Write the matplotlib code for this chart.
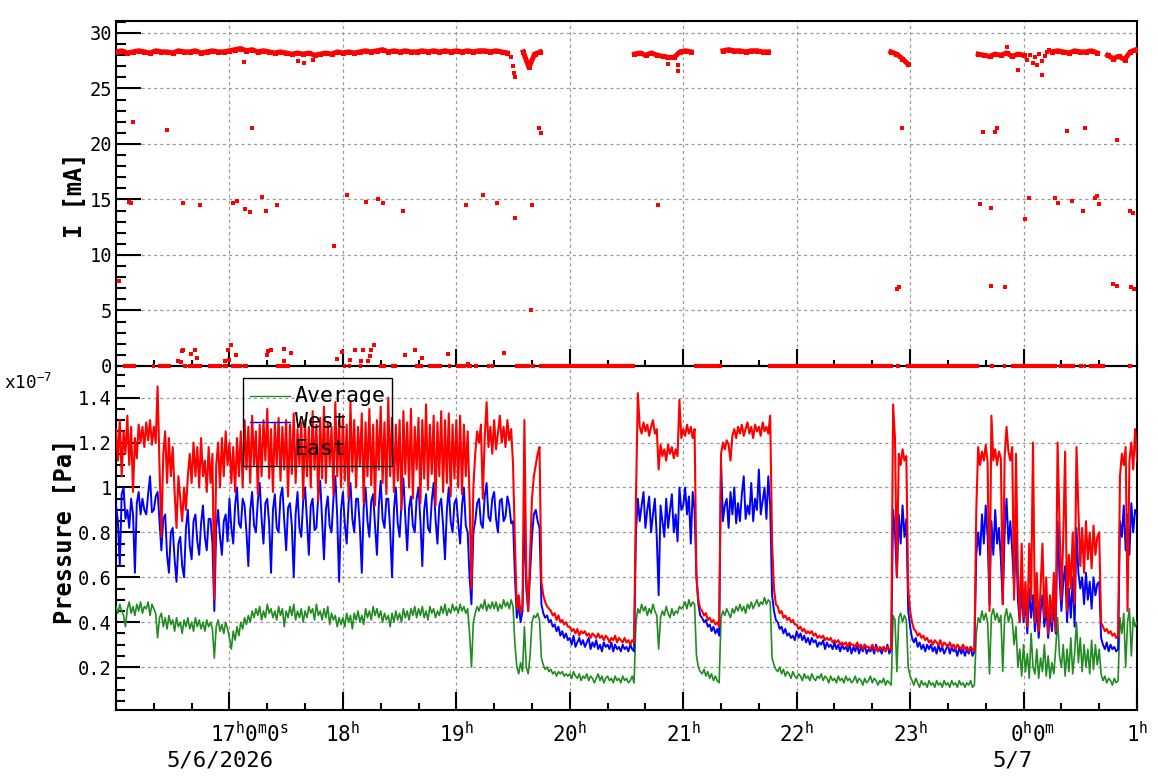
import numpy as np
import matplotlib
matplotlib.use('Agg')
import matplotlib.pyplot as plt
from matplotlib.ticker import MultipleLocator, FixedLocator
from matplotlib.lines import Line2D
from matplotlib.patches import Rectangle
from matplotlib.transforms import blended_transform_factory

plt.rcParams['font.family'] = 'DejaVu Sans Mono'
plt.rcParams['mathtext.fontset'] = 'custom'
plt.rcParams['mathtext.rm'] = 'DejaVu Sans Mono'
plt.rcParams['mathtext.it'] = 'DejaVu Sans Mono'
plt.rcParams['mathtext.bf'] = 'DejaVu Sans Mono:bold'

# ---------------- data ----------------
# time in hours since 5/6 00:00 (25 = 5/7 01:00); pressure in units of 1e-7 Pa
P_T0 = 16.0
P_DT = 1.0 / 60.0   # 1-minute samples

EAST = [
    # 16h
    1.26, 1.12, 1.30, 1.05, 1.25, 1.15, 1.32, 1.10, 1.27, 0.98,
    1.22, 1.13, 1.28, 1.20, 1.27, 1.18, 1.29, 1.21, 1.30, 1.19,
    1.27, 1.20, 1.45, 1.10, 0.78, 1.15, 1.25, 1.02, 1.22, 1.05,
    1.18, 0.98, 0.82, 1.05, 0.95, 0.85, 1.00, 0.90, 1.05, 1.15,
    1.02, 1.20, 1.05, 1.18, 1.00, 1.22, 1.05, 1.12, 0.98, 1.18,
    1.02, 1.15, 0.50, 1.10, 1.20, 1.00, 1.22, 1.05, 1.25, 1.10,
    # 17h
    1.20, 1.02, 1.18, 0.98, 1.22, 1.05, 1.25, 1.00, 1.30, 1.08,
    1.27, 1.02, 1.32, 1.10, 1.25, 0.97, 1.28, 1.05, 1.30, 1.12,
    1.35, 1.04, 1.26, 0.98, 1.29, 1.10, 1.31, 1.03, 1.27, 1.08,
    1.30, 0.96, 1.28, 1.06, 1.33, 1.02, 1.26, 1.10, 1.29, 0.95,
    1.30, 1.05, 1.27, 1.00, 1.34, 1.08, 1.28, 0.94, 1.31, 1.04,
    1.36, 1.02, 1.29, 1.10, 1.27, 0.97, 1.38, 1.05, 1.30, 1.00,
    # 18h
    1.32, 1.03, 1.28, 0.95, 1.38, 1.07, 1.30, 1.00, 1.27, 1.10,
    1.33, 0.93, 1.29, 1.05, 1.35, 1.01, 1.28, 0.92, 1.30, 1.08,
    1.36, 1.02, 1.29, 0.97, 1.40, 1.05, 1.31, 0.98, 1.28, 1.03,
    1.30, 0.90, 1.34, 1.06, 1.29, 1.00, 1.35, 0.95, 1.27, 1.08,
    1.31, 0.93, 1.30, 1.04, 1.37, 0.99, 1.28, 1.06, 1.32, 0.92,
    1.29, 1.05, 1.34, 0.98, 1.30, 1.02, 1.33, 0.96, 1.28, 1.04,
    # 19h
    1.30, 1.00, 1.32, 0.97, 1.28, 1.05, 1.25, 0.95, 0.55, 1.00,
    1.15, 1.25, 1.20, 1.28, 0.95, 1.22, 1.38, 1.18, 1.27, 1.15,
    1.30, 1.17, 1.24, 1.32, 1.20, 1.27, 1.18, 1.30, 1.21, 1.26,
    1.10, 0.75, 0.46, 0.52, 0.44, 0.48, 1.30, 0.62, 0.45, 0.70,
    0.95, 1.05, 1.10, 1.15, 1.18, 0.58, 0.52, 0.49, 0.47, 0.46,
    0.45, 0.43, 0.44, 0.41, 0.43, 0.40, 0.41, 0.39, 0.40, 0.38,
    # 20h
    0.38, 0.36, 0.37, 0.35, 0.37, 0.34, 0.36, 0.35, 0.36, 0.34,
    0.35, 0.33, 0.35, 0.34, 0.33, 0.35, 0.33, 0.34, 0.32, 0.34,
    0.33, 0.31, 0.33, 0.32, 0.34, 0.31, 0.33, 0.32, 0.31, 0.33,
    0.31, 0.32, 0.30, 0.32, 0.31, 0.95, 1.42, 1.27, 1.24, 1.29,
    1.25, 1.28, 1.23, 1.27, 1.30, 1.24, 1.26, 1.08, 1.19, 1.14,
    1.17, 1.12, 1.19, 1.15, 1.18, 1.13, 1.17, 1.14, 1.39, 1.22,
    # 21h
    1.26, 1.23, 1.28, 1.24, 1.27, 1.22, 1.26, 0.60, 0.50, 0.46,
    0.45, 0.43, 0.44, 0.41, 0.42, 0.40, 0.41, 0.39, 0.40, 0.38,
    1.15, 1.20, 1.17, 1.21, 1.19, 1.12, 1.23, 1.26, 1.22, 1.27,
    1.24, 1.28, 1.23, 1.26, 1.29, 1.24, 1.27, 1.22, 1.28, 1.25,
    1.27, 1.23, 1.29, 1.25, 1.27, 1.24, 1.32, 0.75, 0.55, 0.48,
    0.47, 0.44, 0.45, 0.42, 0.43, 0.41, 0.42, 0.40, 0.41, 0.39,
    # 22h
    0.39, 0.37, 0.38, 0.36, 0.37, 0.35, 0.36, 0.35, 0.36, 0.34,
    0.35, 0.33, 0.34, 0.33, 0.34, 0.32, 0.33, 0.32, 0.33, 0.31,
    0.32, 0.31, 0.32, 0.30, 0.31, 0.30, 0.31, 0.29, 0.31, 0.30,
    0.30, 0.29, 0.31, 0.29, 0.30, 0.28, 0.30, 0.29, 0.29, 0.28,
    0.30, 0.28, 0.29, 0.27, 0.29, 0.28, 0.29, 0.27, 0.29, 0.28,
    0.28, 1.37, 1.22, 0.60, 1.15, 1.10, 1.17, 1.12, 1.14, 0.55,
    # 23h
    0.45, 0.40, 0.37, 0.36, 0.34, 0.35, 0.33, 0.34, 0.32, 0.33,
    0.31, 0.32, 0.30, 0.32, 0.31, 0.30, 0.32, 0.29, 0.31, 0.30,
    0.29, 0.31, 0.29, 0.30, 0.28, 0.30, 0.29, 0.28, 0.30, 0.28,
    0.29, 0.27, 0.29, 0.28, 0.27, 0.90, 1.18, 1.10, 1.16, 1.12,
    1.19, 1.11, 0.45, 1.32, 1.12, 1.17, 1.10, 1.16, 1.13, 0.48,
    1.14, 1.27, 1.16, 1.12, 1.18, 0.50, 1.15, 0.62, 0.40, 0.75,
    # 0h (5/7)
    0.42, 0.58, 0.38, 0.75, 0.50, 1.20, 0.40, 0.62, 0.36, 0.55,
    0.75, 0.42, 0.60, 0.35, 0.52, 0.40, 0.62, 0.36, 1.20, 0.85,
    0.50, 0.78, 1.16, 0.45, 0.70, 0.55, 0.80, 0.48, 1.18, 0.90,
    0.65, 0.82, 0.62, 0.85, 0.68, 0.80, 0.64, 0.83, 0.70, 0.78,
    0.80, 0.40, 0.38, 0.36, 0.37, 0.35, 0.36, 0.34, 0.35, 0.33,
    0.34, 1.05, 1.15, 1.10, 1.18, 0.45, 1.12, 1.20, 1.08, 1.26,
    1.12,
]
WEST = [
    # 16h
    0.92, 0.85, 0.65, 0.97, 1.00, 0.86, 0.90, 0.82, 0.95, 0.88,
    0.62, 0.93, 0.98, 0.88, 0.95, 0.90, 0.88, 0.97, 1.05, 0.89,
    0.90, 0.96, 0.98, 0.85, 0.72, 0.86, 0.88, 0.70, 0.62, 0.80,
    0.82, 0.68, 0.58, 0.75, 0.78, 0.65, 0.60, 0.82, 0.90, 0.74,
    0.68, 0.85, 0.88, 0.76, 0.70, 0.84, 0.92, 0.78, 0.72, 0.86,
    0.86, 0.75, 0.45, 0.82, 0.90, 0.78, 0.70, 0.85, 0.88, 0.76,
    # 17h
    0.95, 0.82, 0.75, 0.92, 1.00, 0.84, 0.82, 0.95, 0.92, 0.80,
    0.65, 0.90, 0.98, 0.83, 0.80, 0.94, 1.02, 0.86, 0.75, 0.93,
    0.95, 0.84, 0.62, 0.90, 0.97, 0.82, 0.80, 0.96, 1.00, 0.85,
    0.72, 0.91, 0.93, 0.83, 0.60, 0.88, 0.98, 0.82, 0.78, 0.94,
    1.00, 0.85, 0.70, 0.92, 0.95, 0.81, 0.82, 0.97, 1.03, 0.86,
    0.68, 0.90, 0.96, 0.83, 0.80, 0.95, 1.05, 0.87, 0.58, 0.90,
    # 18h
    0.98, 0.84, 0.75, 0.93, 1.02, 0.86, 0.80, 0.95, 0.95, 0.82,
    0.62, 0.91, 1.00, 0.85, 0.78, 0.94, 0.97, 0.83, 0.70, 0.92,
    1.03, 0.86, 0.82, 0.95, 0.95, 0.81, 0.60, 0.90, 1.00, 0.84,
    0.78, 0.93, 1.04, 0.87, 0.72, 0.91, 0.96, 0.83, 0.80, 0.95,
    1.00, 0.85, 0.65, 0.90, 0.97, 0.82, 0.80, 0.94, 1.02, 0.86,
    0.75, 0.92, 0.95, 0.83, 0.68, 0.90, 1.00, 0.85, 0.80, 0.93,
    # 19h
    0.95, 0.84, 0.75, 0.92, 1.00, 0.83, 0.80, 0.60, 0.48, 0.80,
    0.85, 0.93, 0.95, 0.84, 0.82, 0.96, 1.02, 0.87, 0.85, 0.95,
    0.98, 0.86, 0.80, 0.94, 0.95, 0.85, 0.87, 0.96, 0.92, 0.84,
    0.85, 0.60, 0.42, 0.48, 0.40, 0.45, 0.90, 0.55, 0.45, 0.62,
    0.78, 0.88, 0.90, 0.85, 0.82, 0.48, 0.44, 0.42, 0.43, 0.40,
    0.41, 0.38, 0.39, 0.36, 0.38, 0.34, 0.36, 0.33, 0.35, 0.32,
    # 20h
    0.33, 0.30, 0.34, 0.29, 0.31, 0.33, 0.30, 0.32, 0.29, 0.31,
    0.33, 0.28, 0.31, 0.29, 0.32, 0.28, 0.30, 0.27, 0.31, 0.29,
    0.30, 0.28, 0.31, 0.27, 0.30, 0.28, 0.29, 0.27, 0.30, 0.28,
    0.29, 0.27, 0.30, 0.28, 0.27, 0.80, 0.95, 0.85, 0.92, 0.98,
    0.82, 0.90, 0.96, 0.80, 0.88, 0.95, 0.78, 0.52, 0.92, 0.85,
    0.78, 0.95, 0.82, 0.90, 0.97, 0.80, 0.88, 0.76, 1.00, 0.90,
    # 21h
    0.92, 1.00, 0.88, 0.96, 0.75, 0.98, 0.90, 0.60, 0.48, 0.43,
    0.42, 0.40, 0.41, 0.38, 0.39, 0.36, 0.38, 0.35, 0.37, 0.34,
    1.12, 0.85, 0.92, 0.95, 0.82, 0.98, 0.88, 1.00, 0.84, 0.93,
    0.85, 0.97, 1.05, 0.86, 0.92, 0.88, 1.02, 0.85, 0.95, 0.90,
    1.08, 0.88, 0.94, 1.00, 0.86, 1.05, 0.92, 0.52, 0.45, 0.41,
    0.40, 0.37, 0.38, 0.35, 0.37, 0.34, 0.35, 0.33, 0.34, 0.32,
    # 22h
    0.36, 0.33, 0.35, 0.32, 0.34, 0.31, 0.33, 0.30, 0.33, 0.31,
    0.32, 0.29, 0.31, 0.30, 0.32, 0.28, 0.31, 0.29, 0.30, 0.28,
    0.31, 0.28, 0.30, 0.27, 0.30, 0.28, 0.29, 0.27, 0.30, 0.26,
    0.29, 0.27, 0.30, 0.26, 0.29, 0.27, 0.30, 0.26, 0.28, 0.27,
    0.29, 0.26, 0.30, 0.27, 0.28, 0.26, 0.29, 0.27, 0.30, 0.26,
    0.28, 0.90, 0.80, 0.60, 0.88, 0.75, 0.92, 0.78, 0.86, 0.45,
    # 23h
    0.38, 0.33, 0.31, 0.33, 0.29, 0.31, 0.28, 0.30, 0.27, 0.30,
    0.28, 0.30, 0.27, 0.29, 0.26, 0.30, 0.27, 0.29, 0.26, 0.28,
    0.30, 0.26, 0.29, 0.27, 0.28, 0.25, 0.29, 0.26, 0.28, 0.25,
    0.28, 0.26, 0.29, 0.25, 0.27, 0.70, 0.80, 0.70, 0.88, 0.75,
    0.92, 0.78, 0.48, 0.85, 0.70, 0.90, 0.75, 0.82, 0.68, 0.48,
    0.80, 0.95, 0.75, 0.85, 0.72, 0.55, 0.80, 0.50, 0.40, 0.55,
    # 0h (5/7)
    0.40, 0.50, 0.35, 0.55, 0.42, 0.52, 0.36, 0.47, 0.33, 0.45,
    0.52, 0.38, 0.47, 0.33, 0.44, 0.36, 0.48, 0.35, 0.85, 0.60,
    0.45, 0.58, 0.65, 0.40, 0.55, 0.42, 0.60, 0.38, 0.82, 0.62,
    0.55, 0.60, 0.48, 0.62, 0.50, 0.58, 0.46, 0.60, 0.52, 0.57,
    0.58, 0.33, 0.30, 0.28, 0.31, 0.27, 0.30, 0.28, 0.29, 0.27,
    0.28, 0.85, 0.78, 0.92, 0.72, 0.88, 0.70, 0.93, 0.80, 0.90,
    0.88,
]
AVERAGE = [
    # 16h
    0.47, 0.44, 0.48, 0.45, 0.43, 0.38, 0.46, 0.49, 0.44, 0.47,
    0.43, 0.48, 0.45, 0.49, 0.44, 0.47, 0.46, 0.49, 0.43, 0.48,
    0.46, 0.44, 0.33, 0.42, 0.44, 0.38, 0.42, 0.37, 0.43, 0.39,
    0.41, 0.36, 0.42, 0.38, 0.40, 0.35, 0.41, 0.38, 0.42, 0.37,
    0.40, 0.36, 0.42, 0.38, 0.41, 0.37, 0.40, 0.36, 0.41, 0.38,
    0.40, 0.37, 0.24, 0.38, 0.41, 0.36, 0.39, 0.35, 0.40, 0.37,
    # 17h
    0.33, 0.28, 0.36, 0.32, 0.38, 0.34, 0.40, 0.37, 0.42, 0.39,
    0.43, 0.40, 0.45, 0.42, 0.46, 0.43, 0.47, 0.41, 0.45, 0.42,
    0.48, 0.44, 0.46, 0.42, 0.45, 0.41, 0.47, 0.43, 0.46, 0.38,
    0.45, 0.42, 0.47, 0.43, 0.48, 0.41, 0.45, 0.42, 0.46, 0.40,
    0.45, 0.42, 0.47, 0.44, 0.46, 0.41, 0.48, 0.43, 0.45, 0.41,
    0.46, 0.42, 0.47, 0.39, 0.44, 0.41, 0.43, 0.38, 0.42, 0.39,
    # 18h
    0.42, 0.38, 0.44, 0.40, 0.43, 0.37, 0.44, 0.41, 0.45, 0.40,
    0.43, 0.39, 0.46, 0.42, 0.45, 0.41, 0.47, 0.43, 0.46, 0.42,
    0.45, 0.40, 0.44, 0.41, 0.43, 0.38, 0.44, 0.40, 0.45, 0.41,
    0.44, 0.40, 0.46, 0.42, 0.45, 0.41, 0.46, 0.43, 0.47, 0.42,
    0.46, 0.43, 0.47, 0.42, 0.45, 0.41, 0.47, 0.44, 0.46, 0.42,
    0.45, 0.43, 0.47, 0.44, 0.48, 0.43, 0.46, 0.44, 0.48, 0.45,
    # 19h
    0.47, 0.44, 0.48, 0.45, 0.47, 0.44, 0.46, 0.35, 0.20, 0.40,
    0.44, 0.47, 0.45, 0.48, 0.46, 0.50, 0.45, 0.48, 0.46, 0.49,
    0.46, 0.49, 0.45, 0.48, 0.46, 0.50, 0.47, 0.49, 0.46, 0.50,
    0.47, 0.30, 0.20, 0.17, 0.22, 0.18, 0.38, 0.20, 0.17, 0.25,
    0.40, 0.43, 0.42, 0.44, 0.41, 0.24, 0.21, 0.19, 0.20, 0.18,
    0.19, 0.17, 0.18, 0.16, 0.18, 0.17, 0.18, 0.16, 0.17, 0.16,
    # 20h
    0.17, 0.15, 0.18, 0.16, 0.15, 0.17, 0.14, 0.16, 0.15, 0.17,
    0.14, 0.16, 0.15, 0.13, 0.15, 0.17, 0.14, 0.16, 0.13, 0.15,
    0.16, 0.14, 0.15, 0.13, 0.16, 0.14, 0.15, 0.13, 0.16, 0.14,
    0.15, 0.13, 0.14, 0.16, 0.13, 0.40, 0.46, 0.44, 0.48, 0.45,
    0.47, 0.43, 0.46, 0.44, 0.48, 0.45, 0.43, 0.28, 0.42, 0.45,
    0.43, 0.47, 0.44, 0.42, 0.46, 0.43, 0.45, 0.44, 0.47, 0.46,
    # 21h
    0.47, 0.49, 0.46, 0.50, 0.47, 0.49, 0.48, 0.25, 0.20, 0.18,
    0.17, 0.19, 0.16, 0.18, 0.15, 0.17, 0.14, 0.16, 0.14, 0.13,
    0.42, 0.45, 0.43, 0.46, 0.44, 0.42, 0.46, 0.44, 0.47, 0.45,
    0.48, 0.45, 0.47, 0.44, 0.48, 0.46, 0.49, 0.46, 0.48, 0.50,
    0.47, 0.49, 0.48, 0.51, 0.48, 0.50, 0.49, 0.24, 0.21, 0.19,
    0.18, 0.20, 0.17, 0.19, 0.16, 0.18, 0.17, 0.15, 0.18, 0.16,
    # 22h
    0.15, 0.17, 0.16, 0.14, 0.17, 0.15, 0.16, 0.14, 0.17, 0.15,
    0.14, 0.16, 0.15, 0.17, 0.14, 0.16, 0.15, 0.13, 0.16, 0.14,
    0.15, 0.13, 0.16, 0.14, 0.15, 0.13, 0.16, 0.14, 0.15, 0.13,
    0.14, 0.16, 0.13, 0.15, 0.14, 0.12, 0.15, 0.13, 0.14, 0.16,
    0.13, 0.15, 0.14, 0.12, 0.14, 0.13, 0.15, 0.12, 0.14, 0.13,
    0.12, 0.43, 0.41, 0.18, 0.42, 0.44, 0.40, 0.43, 0.41, 0.20,
    # 23h
    0.16, 0.14, 0.12, 0.15, 0.13, 0.11, 0.14, 0.12, 0.13, 0.11,
    0.14, 0.12, 0.13, 0.11, 0.14, 0.12, 0.13, 0.11, 0.14, 0.12,
    0.13, 0.11, 0.14, 0.12, 0.13, 0.11, 0.14, 0.12, 0.13, 0.11,
    0.13, 0.12, 0.14, 0.11, 0.12, 0.35, 0.42, 0.40, 0.45, 0.41,
    0.44, 0.40, 0.17, 0.43, 0.46, 0.41, 0.44, 0.40, 0.43, 0.18,
    0.42, 0.46, 0.40, 0.44, 0.41, 0.30, 0.38, 0.20, 0.28, 0.16,
    # 0h (5/7)
    0.30, 0.18, 0.26, 0.15, 0.35, 0.20, 0.17, 0.28, 0.15, 0.24,
    0.18, 0.30, 0.16, 0.25, 0.15, 0.22, 0.17, 0.28, 0.42, 0.25,
    0.20, 0.30, 0.16, 0.28, 0.18, 0.33, 0.17, 0.26, 0.40, 0.22,
    0.33, 0.18, 0.30, 0.20, 0.28, 0.17, 0.32, 0.19, 0.30, 0.21,
    0.28, 0.17, 0.14, 0.16, 0.13, 0.15, 0.14, 0.12, 0.15, 0.13,
    0.14, 0.42, 0.35, 0.44, 0.20, 0.40, 0.46, 0.25, 0.42, 0.38,
    0.40,
]

# beam current: main band segments (3-minute samples)
I_BAND_STEP = 0.05
I_BAND_START = [16.00, 19.59, 20.57, 21.35, 22.83, 23.60, 24.25, 24.74]
I_BAND_VALUES = [
    [28.3, 28.4, 28.2, 28.3, 28.4, 28.3, 28.2, 28.4, 28.3, 28.3,
     28.2, 28.4, 28.3, 28.3, 28.4, 28.2, 28.3, 28.4, 28.3, 28.3,
     28.4, 28.5, 28.6, 28.4, 28.5, 28.3, 28.4, 28.3, 28.2, 28.3,
     28.2, 28.1, 28.2, 28.1, 28.2, 28.0, 28.1, 28.2, 28.1, 28.3,
     28.2, 28.3, 28.2, 28.3, 28.4, 28.3, 28.4, 28.5, 28.3, 28.4,
     28.3, 28.4, 28.3, 28.3, 28.4, 28.3, 28.4, 28.3, 28.4, 28.3,
     28.4, 28.3, 28.4, 28.3, 28.4, 28.4, 28.3, 28.4, 28.3, 28.2],
    [28.3, 26.9, 28.1, 28.3],
    [28.1, 28.2, 28.0, 28.2, 28.0, 27.9, 27.8, 27.8, 28.3, 28.4, 28.3],
    [28.4, 28.5, 28.4, 28.4, 28.3, 28.4, 28.4, 28.3, 28.3],
    [28.3, 28.1, 27.7, 27.2],
    [28.1, 28.0, 27.9, 28.1, 28.0, 28.2, 27.9, 28.1, 28.0],
    [28.3, 28.4, 28.3, 28.2, 28.4, 28.3, 28.3, 28.4, 28.2],
    [28.0, 27.7, 27.9, 27.6, 28.3, 28.5],
]

# beam current: isolated readings
I_SCAT_T = [16.026, 16.115, 16.132, 16.150, 16.450, 16.590, 16.740, 17.030, 17.067, 17.140,
            17.180, 17.200, 17.290, 17.320, 17.420, 17.920, 18.040, 18.200, 18.310, 18.350,
            18.530, 19.086, 19.236, 19.360, 19.520, 19.670, 19.730, 19.750, 20.780, 22.887,
            22.905, 22.930, 23.620, 23.645, 23.710, 23.716, 23.750, 23.770, 23.840, 24.016,
            24.050, 24.280, 24.300, 24.386, 24.430, 24.527, 24.545, 24.633, 24.650, 24.668,
            24.790, 24.827, 24.827, 24.940, 24.950, 24.968, 24.977,
            16.549, 16.573, 16.579, 16.588, 16.661, 16.700, 16.717, 16.961, 16.990, 17.000,
            17.017, 17.058, 17.334, 17.343, 17.367, 17.484, 17.484, 17.546, 17.951, 17.996,
            18.066, 18.110, 18.160, 18.180, 18.225, 18.243, 18.251, 18.278, 18.551, 18.639,
            18.698, 18.930, 19.107, 19.420, 19.662,
            17.13, 17.60, 17.66, 17.74, 19.48, 19.50, 19.51, 19.52, 20.87, 20.95,
            20.95, 23.85, 23.95, 24.03, 24.06, 24.08, 24.10, 24.12, 24.14, 24.16,
            24.16, 24.19, 24.21, 24.22]
I_SCAT_V = [7.7, 14.8, 14.7, 22.0, 21.3, 14.7, 14.5, 14.7, 14.9, 14.1,
            13.9, 21.4, 15.2, 14.0, 14.5, 10.8, 15.4, 14.8, 15.0, 14.7,
            14.0, 14.5, 15.4, 14.7, 13.3, 14.5, 21.4, 21.0, 14.5, 6.9,
            7.1, 21.4, 14.6, 21.1, 14.2, 7.2, 21.1, 21.4, 7.1, 13.2,
            15.1, 15.1, 14.7, 21.2, 14.9, 14.0, 21.4, 15.1, 15.3, 14.6,
            7.4, 7.2, 20.4, 14.0, 7.1, 13.8, 6.9,
            0.45, 0.33, 1.35, 1.44, 1.05, 1.44, 0.69, 0.42, 1.44, 0.51,
            1.90, 0.96, 0.96, 1.32, 1.44, 1.50, 0.42, 1.14, 0.60, 1.26,
            0.51, 1.44, 0.42, 1.44, 0.45, 0.87, 1.44, 1.90, 0.96, 1.44,
            0.69, 1.08, 0.18, 1.17, 5.0,
            27.4, 27.5, 27.3, 27.6, 27.8, 27.0, 26.4, 26.0, 27.2, 26.6,
            27.1, 28.7, 26.7, 27.6, 28.0, 27.3, 27.8, 27.1, 28.1, 27.5,
            26.2, 27.9, 28.3, 28.5]

# beam current: intervals with zero readings
ZERO_START = [16.064, 16.315, 16.373, 16.588, 16.638, 16.814, 16.946, 17.014, 17.123, 17.408,
              17.999, 18.049, 18.146, 18.322, 18.425, 18.637, 18.749, 18.925, 18.998, 19.092,
              19.157, 19.269, 19.307, 19.519, 19.657, 19.733, 21.094, 21.750, 22.880, 22.966,
              23.700, 23.817, 23.890, 24.316, 24.490, 24.536, 24.576, 24.920]
ZERO_END = [16.174, 16.344, 16.482, 16.629, 16.755, 16.932, 16.990, 17.108, 17.161, 17.534,
            18.028, 18.070, 18.170, 18.381, 18.475, 18.704, 18.872, 18.951, 19.086, 19.137,
            19.190, 19.298, 19.336, 19.651, 19.695, 20.575, 21.344, 22.850, 22.910, 23.606,
            23.740, 23.848, 24.296, 24.452, 24.520, 24.553, 24.718, 24.956]

HOUR_TICKS = [17, 18, 19, 20, 21, 22, 23, 24, 25]
HOUR_LABELS = ['17$^{h}$0$^{m}$0$^{s}$', '18$^{h}$', '19$^{h}$', '20$^{h}$', '21$^{h}$',
               '22$^{h}$', '23$^{h}$', '0$^{h}$0$^{m}$', '1$^{h}$']
HOUR_LABEL_POS = [17.18, 18.0, 19.0, 20.0, 21.0, 22.0, 23.0, 24.08, 25.0]
DATE_LABELS = ['5/6/2026', '5/7']
DATE_LABEL_POS = [16.917, 23.90]

P_TICKS = [0.2, 0.4, 0.6, 0.8, 1.0, 1.2, 1.4]
P_TICK_LABELS = ['0.2', '0.4', '0.6', '0.8', '1', '1.2', '1.4']

# ---------------- figure ----------------
W, H = 1158, 782
fig = plt.figure(figsize=(W / 100, H / 100), dpi=100)


def fx(px):
    return px / W


def fy(py):
    return 1 - py / H


ax1 = fig.add_axes([fx(116), fy(366), fx(1137) - fx(116), fy(21) - fy(366)])
ax2 = fig.add_axes([fx(116), fy(710), fx(1137) - fx(116), fy(366) - fy(710)])
ax1.set_zorder(2)          # zero readings sit on top of the shared border
ax1.patch.set_alpha(0)

RED = '#ff0000'
BLUE = '#0000ff'
GREEN = '#228b22'
GRID = '#9a9a9a'

for ax in (ax1, ax2):
    ax.set_xlim(16.0, 25.0)
    ax.set_axisbelow(True)
    ax.xaxis.set_major_locator(FixedLocator(HOUR_TICKS))
    ax.xaxis.set_minor_locator(MultipleLocator(1.0 / 3.0))
    ax.grid(True, which='major', color=GRID, linestyle=(0, (2.5, 2.5)), linewidth=0.9)
    for s in ax.spines.values():
        s.set_linewidth(1.5)
    ax.set_xticklabels([])
    ax.tick_params(which='both', direction='in', width=1.5, top=False, right=False,
                   labelsize=13.5, pad=3)

# ---- top panel: current ----
ax1.set_ylim(0, 31.08)
ax1.yaxis.set_major_locator(MultipleLocator(5))
ax1.yaxis.set_minor_locator(MultipleLocator(1))
ax1.tick_params(axis='y', which='major', length=18)
ax1.tick_params(axis='y', which='minor', length=7.2)
ax1.tick_params(axis='x', which='major', length=12)
ax1.tick_params(axis='x', which='minor', length=4.5)

ax1.hlines(np.zeros(len(ZERO_START)), ZERO_START, ZERO_END, colors=RED, linewidth=3.0,
           clip_on=False, zorder=5)
for start, vals in zip(I_BAND_START, I_BAND_VALUES):
    tt = start + I_BAND_STEP * np.arange(len(vals))
    ax1.plot(tt, vals, color=RED, linewidth=3.6, marker='s', markersize=3.6,
             markeredgewidth=0, zorder=4)
ax1.plot(I_SCAT_T, I_SCAT_V, linestyle='none', marker='s', markersize=2.8, color=RED,
         markeredgewidth=0, clip_on=False, zorder=5)

# ---- bottom panel: pressure ----
for series, col, lw in ((AVERAGE, GREEN, 1.2), (WEST, BLUE, 1.4), (EAST, RED, 1.5)):
    tt = P_T0 + P_DT * np.arange(len(series))
    ax2.plot(tt, series, color=col, linewidth=lw, zorder=3)

ax2.set_ylim(0.009, 1.541)
ax2.yaxis.set_major_locator(FixedLocator(P_TICKS))
ax2.set_yticklabels(P_TICK_LABELS)
ax2.yaxis.set_minor_locator(MultipleLocator(0.05))
ax2.tick_params(axis='y', which='major', length=17.3)
ax2.tick_params(axis='y', which='minor', length=6.5)
ax2.tick_params(axis='x', which='major', length=13)
ax2.tick_params(axis='x', which='minor', length=4.7)

trans = blended_transform_factory(ax2.transData, ax2.transAxes)
for pos, lab in zip(HOUR_LABEL_POS, HOUR_LABELS):
    ax2.text(pos, -0.093, lab, transform=trans, ha='center', va='baseline', fontsize=15)
for pos, lab in zip(DATE_LABEL_POS, DATE_LABELS):
    ax2.text(pos, -0.1628, lab, transform=trans, ha='center', va='baseline', fontsize=16)

# ---- axis titles ----
fig.text(fx(75), fy(195), 'I [mA]', rotation=90, ha='center', va='center',
         fontsize=17, fontweight='bold')
fig.text(fx(65), fy(531), 'Pressure [Pa]', rotation=90, ha='center', va='center',
         fontsize=17, fontweight='bold')
fig.text(fx(4), fy(389), 'x10$^{-7}$', ha='left', va='baseline', fontsize=12.7)

# ---- legend ----
fig.add_artist(Rectangle((fx(243), fy(466)), fx(392) - fx(243), fy(378) - fy(466),
                         transform=fig.transFigure, fill=False, edgecolor='black',
                         linewidth=1.0))
fig.add_artist(Line2D([fx(250), fx(290)], [fy(396), fy(396)], transform=fig.transFigure,
                      color=GREEN, linewidth=1.0))
fig.add_artist(Line2D([fx(250), fx(290)], [fy(422), fy(422)], transform=fig.transFigure,
                      color=BLUE, linewidth=1.0))
fig.text(fx(295), fy(402), 'Average', ha='left', va='baseline', fontsize=15.5)
fig.text(fx(295), fy(428), 'West', ha='left', va='baseline', fontsize=15.5)
fig.text(fx(295), fy(455), 'East', ha='left', va='baseline', fontsize=15.5)

fig.savefig('out.png', dpi=100)
